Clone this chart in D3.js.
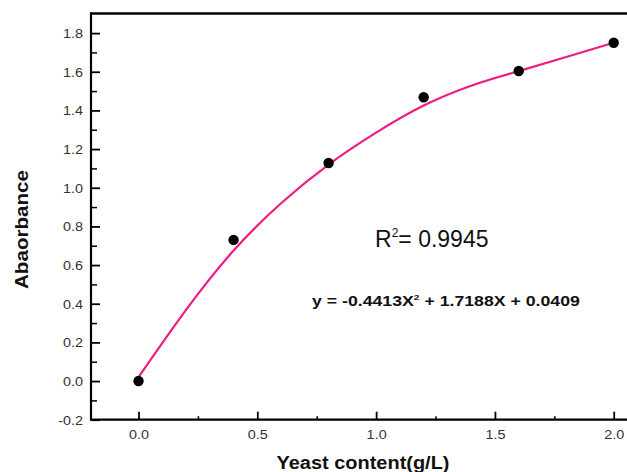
<!DOCTYPE html>
<html>
<head>
<meta charset="utf-8">
<script src="https://cdn.jsdelivr.net/npm/d3@7"></script>
<style>
  html, body { margin: 0; padding: 0; background: #fff; }
  svg { display: block; }
  text { font-family: Arial, "Liberation Sans", sans-serif; }
</style>
</head>
<body>
<div id="chart"></div>
<script>
// ---- data ----
const xValues = [0, 0.4, 0.8, 1.2, 1.6, 2.0];
const absorbance = [0, 0.73, 1.128, 1.468, 1.604, 1.75];
// fitted curve
const fitX = [0, 0.2, 0.4, 0.6, 0.8, 1.0, 1.2, 1.4, 1.6, 1.8, 2.0];
const fitY = [0.02, 0.368, 0.675, 0.92, 1.12, 1.285, 1.425, 1.528, 1.603, 1.676, 1.75];
const xTicks = [0, 0.5, 1.0, 1.5, 2.0];
const xMinorTicks = [0.25, 0.75, 1.25, 1.75];
const yTicks = [-0.2, 0, 0.2, 0.4, 0.6, 0.8, 1.0, 1.2, 1.4, 1.6, 1.8];
const yMinorTicks = [-0.1, 0.1, 0.3, 0.5, 0.7, 0.9, 1.1, 1.3, 1.5, 1.7];
const xTitle = "Yeast content(g/L)";
const yTitle = "Abaorbance";
const r2Label = "0.9945";
const eqParts = ["y = -0.4413X", "2", " + 1.7188X + 0.0409"];

const W = 627, H = 472;
const svg = d3.select("#chart").append("svg").attr("width", W).attr("height", H);

const pLeft = 91, pTop = 13.5, pBottom = 419.7;
const x = d3.scaleLinear().domain([-0.2, 2.2]).range([pLeft, pLeft + 2.4 * 237.6]);
const y = d3.scaleLinear().domain([-0.2, 1.9]).range([pBottom, pBottom - 2.1 * 193.3]);
const fmt = d => d3.format(".1f")(d).replace("\u2212", "-");

function stretch(sel, k) {
  sel.each(function() {
    const len = this.getComputedTextLength();
    d3.select(this).attr("textLength", len * k).attr("lengthAdjust", "spacingAndGlyphs");
  });
}

// minor ticks
const xMinor = svg.append("g").attr("transform", `translate(0,${pBottom})`)
  .call(d3.axisTop(x).tickValues(xMinorTicks).tickSize(3.5).tickFormat(""));
xMinor.select(".domain").remove();
xMinor.selectAll("line").attr("stroke", "#000").attr("stroke-width", 1.5);

const yMinor = svg.append("g").attr("transform", `translate(${pLeft},0)`)
  .call(d3.axisRight(y).tickValues(yMinorTicks).tickSize(6).tickFormat(""));
yMinor.select(".domain").remove();
yMinor.selectAll("line").attr("stroke", "#000").attr("stroke-width", 1.5);

// major x axis
const xAxis = svg.append("g").attr("transform", `translate(0,${pBottom})`)
  .call(d3.axisTop(x).tickValues(xTicks).tickSize(8).tickSizeOuter(0).tickFormat(fmt));
xAxis.select(".domain").remove();
xAxis.selectAll("line").attr("stroke", "#000").attr("stroke-width", 1.8);
xAxis.selectAll("text").attr("y", 19).attr("dy", 0).attr("fill", "#333")
  .attr("font-size", 12).attr("text-anchor", "middle").call(stretch, 1.2);

// major y axis
const yAxis = svg.append("g").attr("transform", `translate(${pLeft},0)`)
  .call(d3.axisRight(y).tickValues(yTicks).tickSize(9).tickSizeOuter(0).tickFormat(fmt));
yAxis.select(".domain").remove();
yAxis.selectAll("line").attr("stroke", "#000").attr("stroke-width", 1.8);
yAxis.selectAll("text").attr("x", -8).attr("dy", "0.36em").attr("fill", "#333")
  .attr("font-size", 12).attr("text-anchor", "end").call(stretch, 1.2);

// frame lines
svg.append("line").attr("x1", pLeft).attr("x2", W + 10).attr("y1", pBottom).attr("y2", pBottom)
  .attr("stroke", "#000").attr("stroke-width", 2.2);
svg.append("line").attr("x1", pLeft).attr("x2", pLeft).attr("y1", pTop - 1).attr("y2", pBottom + 1)
  .attr("stroke", "#000").attr("stroke-width", 2.2);
svg.append("line").attr("x1", pLeft - 1).attr("x2", W + 10).attr("y1", pTop).attr("y2", pTop)
  .attr("stroke", "#000").attr("stroke-width", 2.6);

// fit curve
const line = d3.line().x((d, i) => x(fitX[i])).y(d => y(d)).curve(d3.curveNatural);
svg.append("path").datum(fitY).attr("d", line)
  .attr("fill", "none").attr("stroke", "#F01C85").attr("stroke-width", 2.2);

// points
svg.append("g").selectAll("circle").data(absorbance).join("circle")
  .attr("cx", (d, i) => x(xValues[i])).attr("cy", d => y(d)).attr("r", 5.2).attr("fill", "#000");

// axis titles
svg.append("text").attr("x", 363).attr("y", 469).attr("text-anchor", "middle")
  .attr("font-size", 18).attr("font-weight", "bold").attr("fill", "#111")
  .text(xTitle).attr("textLength", 173).attr("lengthAdjust", "spacingAndGlyphs");

svg.append("text").attr("transform", "translate(27.5,229.5) rotate(-90)").attr("text-anchor", "middle")
  .attr("font-size", 18).attr("font-weight", "bold").attr("fill", "#111")
  .text(yTitle).attr("textLength", 119).attr("lengthAdjust", "spacingAndGlyphs");

// annotations
const r2 = svg.append("text").attr("x", 375).attr("y", 247).attr("font-size", 23).attr("fill", "#111");
r2.append("tspan").text("R");
r2.append("tspan").attr("font-size", 12).attr("dy", -10).text("2");
r2.append("tspan").attr("dy", 10).text("= " + r2Label);

const eq = svg.append("text").attr("x", 312).attr("y", 306).attr("font-size", 14)
  .attr("font-weight", "bold").attr("fill", "#111");
eq.append("tspan").text(eqParts[0]);
eq.append("tspan").attr("font-size", 8).attr("dy", -6).text(eqParts[1]);
eq.append("tspan").attr("dy", 6).text(eqParts[2]);
const eqLen = eq.node().getComputedTextLength();
eq.attr("transform", `translate(312,0) scale(${268 / eqLen},1) translate(-312,0)`);
</script>
</body>
</html>
